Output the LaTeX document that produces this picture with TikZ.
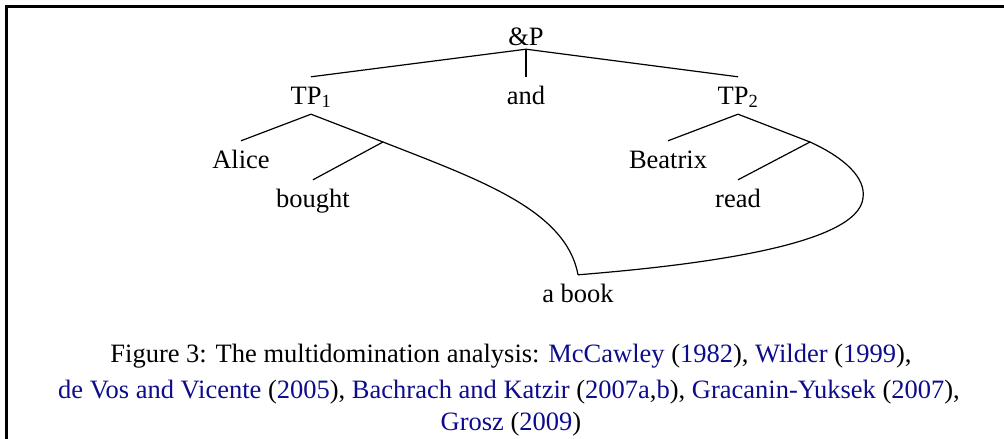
\documentclass[tikz,border=0pt]{standalone}
\usepackage{fontspec}
\setmainfont{Liberation Serif}
\definecolor{linkblue}{rgb}{0.05,0.05,0.55}
\begin{document}
\begin{tikzpicture}[x=1pt,y=-1pt,
  lab/.style={anchor=base,font=\fontsize{26.5}{31}\selectfont,text height=17pt,text depth=0pt,inner xsep=0pt,inner ysep=10pt},
  captext/.style={anchor=base,font=\fontsize{26.5}{31}\selectfont,inner sep=0pt},
  br/.style={line width=1.2pt},
  frameline/.style={line width=3pt}]
\useasboundingbox (0,0) rectangle (1004,439);
\draw[frameline] (6,439) -- (6,6) -- (1004,6);
% tree nodes
\node[lab,inner ysep=4pt] (P) at (526,45) {\&P};
\node[lab] (TP1) at (311,104) {TP\textsubscript{1}};
\node[lab] (and) at (526,104) {and};
\node[lab] (TP2) at (738,104) {TP\textsubscript{2}};
\node[lab] (alice) at (241,168) {Alice};
\node[lab] (bought) at (313,207) {bought};
\node[lab] (beatrix) at (668,168) {Beatrix};
\node[lab] (read) at (738,207) {read};
\node[lab] (book) at (578,302) {a book};
\coordinate (j1) at (383,142);
\coordinate (j2) at (810,142);
% branches
\draw[br] (P.south) -- (TP1.north);
\draw[br] (P.south) -- (and.north);
\draw[br] (P.south) -- (TP2.north);
\draw[br] (TP1.south) -- (alice.north);
\draw[br] (TP1.south) -- (j1);
\draw[br] (j1) -- (bought.north);
\draw[br] (TP2.south) -- (beatrix.north);
\draw[br] (TP2.south) -- (j2);
\draw[br] (j2) -- (read.north);
\draw[br] (j1) .. controls (480,180) and (566,210) .. (book.north);
\draw[br] (j2) .. controls (845,158) and (866,178) .. (863,198)
               .. controls (858,245) and (700,265) .. (book.north);
% caption
\node[captext] (c1) at (511,362) {Figure 3: The multidomination analysis: \textcolor{linkblue}{McCawley} (\textcolor{linkblue}{1982}), \textcolor{linkblue}{Wilder} (\textcolor{linkblue}{1999}),};
\node[captext] (c2) at (509,398) {\textcolor{linkblue}{de Vos and Vicente} (\textcolor{linkblue}{2005}), \textcolor{linkblue}{Bachrach and Katzir} (\textcolor{linkblue}{2007a},\textcolor{linkblue}{b}), \textcolor{linkblue}{Gracanin-Yuksek} (\textcolor{linkblue}{2007}),};
\node[captext] (c3) at (511,430) {\textcolor{linkblue}{Grosz} (\textcolor{linkblue}{2009})};
\end{tikzpicture}
\end{document}
